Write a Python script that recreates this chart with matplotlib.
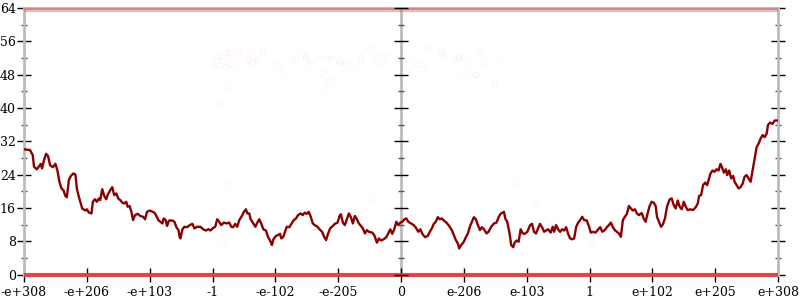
import matplotlib.pyplot as plt
from matplotlib.ticker import MultipleLocator

plt.rcParams['font.family'] = ['DejaVu Serif']
plt.rcParams['font.size'] = 9

# main curve (x in tick units, -6 .. 6)
line_x = [
    -6.000, -5.904, -5.861, -5.840, -5.797, -5.756, -5.733, -5.712, -5.681, -5.649,
    -5.617, -5.585, -5.542, -5.500, -5.468, -5.436, -5.404, -5.373, -5.341, -5.318,
    -5.286, -5.255, -5.213, -5.181, -5.159, -5.127, -5.074, -5.022, -4.999, -4.967,
    -4.926, -4.904, -4.872, -4.840, -4.808, -4.787, -4.755, -4.723, -4.691, -4.670,
    -4.627, -4.596, -4.564, -4.532, -4.500, -4.468, -4.436, -4.404, -4.372, -4.351,
    -4.319, -4.288, -4.265, -4.233, -4.192, -4.149, -4.106, -4.074, -4.042, -4.000,
    -3.957, -3.925, -3.893, -3.862, -3.830, -3.798, -3.777, -3.745, -3.723, -3.691,
    -3.638, -3.606, -3.574, -3.542, -3.522, -3.510, -3.479, -3.447, -3.404, -3.362,
    -3.319, -3.287, -3.244, -3.191, -3.148, -3.107, -3.064, -3.032, -3.000, -2.957,
    -2.925, -2.893, -2.861, -2.820, -2.776, -2.733, -2.701, -2.670, -2.638, -2.606,
    -2.574, -2.532, -2.500, -2.468, -2.446, -2.414, -2.393, -2.350, -2.318, -2.287,
    -2.255, -2.223, -2.191, -2.149, -2.117, -2.074, -2.054, -2.031, -1.990, -1.958,
    -1.926, -1.904, -1.872, -1.840, -1.819, -1.776, -1.744, -1.712, -1.671, -1.639,
    -1.596, -1.564, -1.532, -1.500, -1.468, -1.436, -1.404, -1.372, -1.329, -1.297,
    -1.256, -1.224, -1.192, -1.160, -1.128, -1.085, -1.053, -1.010, -0.978, -0.957,
    -0.925, -0.894, -0.862, -0.830, -0.798, -0.766, -0.734, -0.702, -0.670, -0.638,
    -0.606, -0.574, -0.543, -0.511, -0.458, -0.426, -0.383, -0.351, -0.319, -0.276,
    -0.235, -0.203, -0.171, -0.139, -0.107, -0.075, -0.043, -0.011, 0.021, 0.053,
    0.085, 0.116, 0.160, 0.203, 0.244, 0.276, 0.308, 0.340, 0.383, 0.426,
    0.458, 0.490, 0.522, 0.554, 0.586, 0.618, 0.649, 0.681, 0.723, 0.766,
    0.809, 0.841, 0.873, 0.905, 0.925, 0.957, 1.000, 1.032, 1.064, 1.096,
    1.128, 1.160, 1.192, 1.224, 1.256, 1.288, 1.320, 1.361, 1.393, 1.436,
    1.479, 1.521, 1.553, 1.584,
    1.639, 1.659, 1.691, 1.723, 1.755, 1.787, 1.808, 1.840, 1.872, 1.904,
    1.936, 1.967, 2.011, 2.054, 2.086, 2.117, 2.149, 2.181, 2.213, 2.245,
    2.277, 2.309, 2.341, 2.382, 2.414, 2.437, 2.468, 2.500, 2.532, 2.564,
    2.596, 2.628, 2.660, 2.692, 2.724, 2.756, 2.788, 2.820, 2.851, 2.883,
    2.915, 2.957, 2.989, 3.021, 3.053, 3.096, 3.139, 3.171, 3.203, 3.244,
    3.276, 3.308, 3.340, 3.372, 3.404, 3.435, 3.467, 3.499, 3.531, 3.563,
    3.595, 3.627, 3.659, 3.691, 3.723, 3.755, 3.786, 3.830, 3.862, 3.893,
    3.925, 3.957, 3.989, 4.021, 4.053, 4.074, 4.106, 4.138, 4.165, 4.201,
    4.233, 4.276, 4.308, 4.340, 4.372, 4.404, 4.436, 4.468, 4.500, 4.532,
    4.564, 4.607, 4.648, 4.691, 4.723, 4.744, 4.776, 4.808, 4.840, 4.872,
    4.894, 4.926, 4.958, 4.990, 5.022, 5.053, 5.085, 5.106, 5.138, 5.170,
    5.191, 5.223, 5.255, 5.287, 5.309, 5.341, 5.373, 5.404, 5.436, 5.468,
    5.500, 5.532, 5.564, 5.596, 5.628, 5.660, 5.692, 5.724, 5.755, 5.787,
    5.819, 5.840, 5.872, 5.915, 5.947, 6.000,
]
line_y = [
    30.1, 29.9, 28.7, 25.9, 25.3, 26.1, 26.6, 25.5, 27.5, 29.0,
    28.5, 26.3, 25.8, 26.6, 25.0, 22.3, 20.7, 20.3, 18.9, 18.6,
    22.7, 23.7, 24.3, 24.0, 20.7, 18.7, 15.9, 15.4, 15.7, 14.9,
    14.7, 17.5, 18.1, 17.5, 18.3, 17.9, 20.5, 18.9, 18.1, 19.1,
    20.3, 21.0, 19.1, 19.5, 18.3, 17.9, 17.3, 17.1, 17.5, 16.3,
    16.5, 14.9, 13.1, 14.3, 14.6, 14.1, 13.9, 13.3, 15.1, 15.4,
    15.1, 14.9, 14.1, 13.1, 12.7, 12.3, 13.5, 13.1, 11.7, 13.0,
    13.0, 12.7, 11.4, 10.7, 9.0, 8.7, 10.9, 11.5, 11.4, 11.9,
    12.2, 11.1, 11.5, 11.5, 10.9, 10.6, 10.9, 10.6, 11.1, 11.5,
    13.3, 12.7, 11.9, 12.5, 12.3, 12.5, 11.5, 11.4, 12.2, 11.5,
    13.1, 14.1, 15.1, 15.7, 14.7, 14.7, 13.3, 12.3, 11.5, 12.5,
    13.3, 12.2, 10.9, 10.6, 9.1, 7.9, 7.1, 8.5, 9.3, 9.5,
    9.8, 8.7, 9.1, 10.6, 11.5, 11.4, 12.2, 13.0, 13.5, 14.3,
    14.7, 14.3, 14.9, 14.6, 15.1, 13.9, 12.3, 11.9, 11.5, 10.9,
    10.3, 9.1, 8.3, 9.9, 11.1, 11.7, 12.2, 12.5, 14.1, 14.5,
    12.5, 11.9, 13.3, 14.7, 13.8, 12.3, 14.1, 13.3, 12.3, 11.7,
    11.1, 9.9, 10.7, 10.3, 10.1, 9.5, 7.7, 8.7, 8.2, 8.5,
    9.0, 9.9, 10.9, 9.8, 10.9, 12.7, 11.9, 12.5, 12.7, 13.3,
    13.5, 12.7, 12.3, 11.9, 11.1, 10.3, 10.9, 9.8, 9.0, 9.3,
    10.3, 11.1, 12.2, 12.7, 13.8, 13.3, 13.5, 13.0, 12.5, 11.7,
    10.7, 9.5, 8.3, 7.5, 6.3, 7.1, 7.9, 9.0, 9.9, 11.5,
    12.7, 13.8, 13.3, 11.9, 10.7, 11.4, 10.9, 9.9, 10.3, 11.5,
    12.3, 12.5, 13.8, 14.6,
    15.1, 13.5, 12.7, 10.3, 7.1, 6.6, 7.7, 8.2, 7.9, 10.9,
    9.9, 9.8, 10.3, 11.9, 12.2, 10.3, 9.9, 11.1, 12.2, 11.4,
    10.3, 10.6, 10.9, 10.1, 11.5, 10.3, 11.9, 10.9, 10.3, 10.9,
    10.6, 11.4, 9.8, 8.7, 8.5, 8.7, 11.5, 12.5, 13.1, 13.9,
    13.1, 13.0, 11.7, 10.1, 10.3, 10.1, 10.9, 11.4, 10.3, 10.7,
    11.4, 11.9, 12.5, 11.4, 10.7, 10.3, 9.9, 9.1, 13.1, 13.9,
    14.6, 16.5, 15.9, 15.4, 15.7, 14.7, 14.3, 14.8, 13.5, 12.7,
    14.7, 16.5, 17.5, 17.3, 16.5, 13.9, 12.7, 11.5, 12.0, 13.5,
    16.3, 18.1, 18.3, 16.7, 15.9, 17.8, 16.3, 15.7, 17.5, 16.3,
    15.5, 15.7, 15.5, 16.2, 17.1, 18.9, 19.1, 21.5, 22.1, 21.5,
    22.6, 24.3, 25.0, 24.7, 25.3, 25.0, 26.6, 25.9, 24.5, 25.3,
    23.9, 25.0, 23.1, 23.7, 22.3, 21.5, 20.7, 21.0, 21.8, 23.5,
    23.9, 23.1, 22.3, 25.1, 27.9, 30.6, 31.5, 32.7, 33.5, 33.0,
    33.8, 35.9, 36.5, 36.2, 37.0, 37.0,
]

# faint scattered samples
faint_x = [-3.00, -2.93, -2.92, -2.87, -2.80, -2.78, -2.74, -2.70, -2.72, -2.90,
           -2.60, -2.44, -2.39, -2.37, -2.29, -2.21, -1.98, -1.90, -1.73, -1.67,
           -1.54, -1.53, -1.44, -1.31, -1.26, -1.17, -1.12, -1.15, -1.21, -0.99,
           -0.97, -0.89, -0.71, -0.64, -0.51, -0.44, -0.32, -0.30, -0.23, -0.04,
           0.11, 0.12, 0.26, 0.35, 0.45, 0.64, 0.69, 0.85, 0.90, 0.99,
           1.25, 1.36, 1.56, 1.00, 1.18, 1.20, 1.48, 1.87, 2.15, 2.29,
           2.42, 3.03, -2.79, -2.84, -0.51]
faint_y = [50.5, 52.5, 50.3, 52.2, 49.8, 53.5, 53.1, 50.6, 45.0, 41.0,
           53.4, 51.7, 53.4, 51.1, 51.5, 53.9, 50.3, 48.5, 51.4, 51.7,
           52.7, 51.9, 50.9, 51.9, 48.3, 51.9, 51.7, 46.5, 44.5, 51.4,
           50.7, 50.6, 49.9, 52.0, 54.5, 51.7, 52.6, 50.7, 53.3, 51.8,
           49.3, 51.8, 50.6, 49.5, 54.6, 53.5, 52.5, 51.9, 52.2, 52.6,
           53.3, 50.7, 51.5, 48.6, 48.2, 47.9, 45.5, 22.1, 17.1, 13.3,
           12.6, 7.1, 21.5, 6.9, 18.1]

# saturated samples piled up at both limits
band_x = [-6, 6]
top_band_y = 63.6
bottom_band_y = 0

tick_pos = [-6, -5, -4, -3, -2, -1, 0, 1, 2, 3, 4, 5, 6]
tick_labels = ['-e+308', '-e+206', '-e+103', '-1', '-e-102', '-e-205', '0',
               'e-206', 'e-103', '1', 'e+102', 'e+205', 'e+308']
y_major = [0, 8, 16, 24, 32, 40, 48, 56, 64]
y_minor = [4, 12, 20, 28, 36, 44, 52, 60]

axis_gray = '#bbbbbb'

fig = plt.figure(figsize=(8, 3), dpi=100)
ax = fig.add_axes([24 / 800, 25.3 / 300, 754 / 800, 266.7 / 300])
ax.set_xlim(-6, 6)
ax.set_ylim(0, 64)

for side in ['left', 'right', 'top', 'bottom']:
    ax.spines[side].set_color(axis_gray)
    ax.spines[side].set_linewidth(2)
ax.axvline(0, color=axis_gray, lw=2, zorder=1)

ax.plot(band_x, [top_band_y] * 2, color='#e03030', lw=3, alpha=0.35,
        solid_capstyle='butt', zorder=2.6)
ax.plot(band_x, [bottom_band_y] * 2, color='#e0383c', lw=3, alpha=0.9,
        solid_capstyle='butt', zorder=2.6, clip_on=False)
ax.plot(faint_x, faint_y, 'o', mfc='none', mec='#ff5050', mew=0.8, ms=4,
        alpha=0.06, zorder=2)

ax.plot(line_x, line_y, color='#8b0000', lw=1.7, zorder=3)

ax.set_xticks(tick_pos)
ax.set_xticklabels(tick_labels)
ax.set_yticks(y_major)
ax.yaxis.set_minor_locator(MultipleLocator(4))
ax.tick_params(axis='both', which='major', direction='inout', length=10,
               width=1, color='black', pad=1)
ax.tick_params(axis='x', which='major', pad=3)
ax.tick_params(axis='y', which='both', right=True)
ax.tick_params(axis='y', which='minor', direction='inout', length=5,
               width=1, color='#555555')

# ticks on the middle axis
ax.plot([0] * len(y_major), y_major, ls='none', marker='_', ms=10, mew=1,
        color='black', clip_on=False, zorder=4)
ax.plot([0] * len(y_minor), y_minor, ls='none', marker='_', ms=5, mew=1,
        color='#555555', clip_on=False, zorder=4)

fig.savefig('out.png', dpi=100)
